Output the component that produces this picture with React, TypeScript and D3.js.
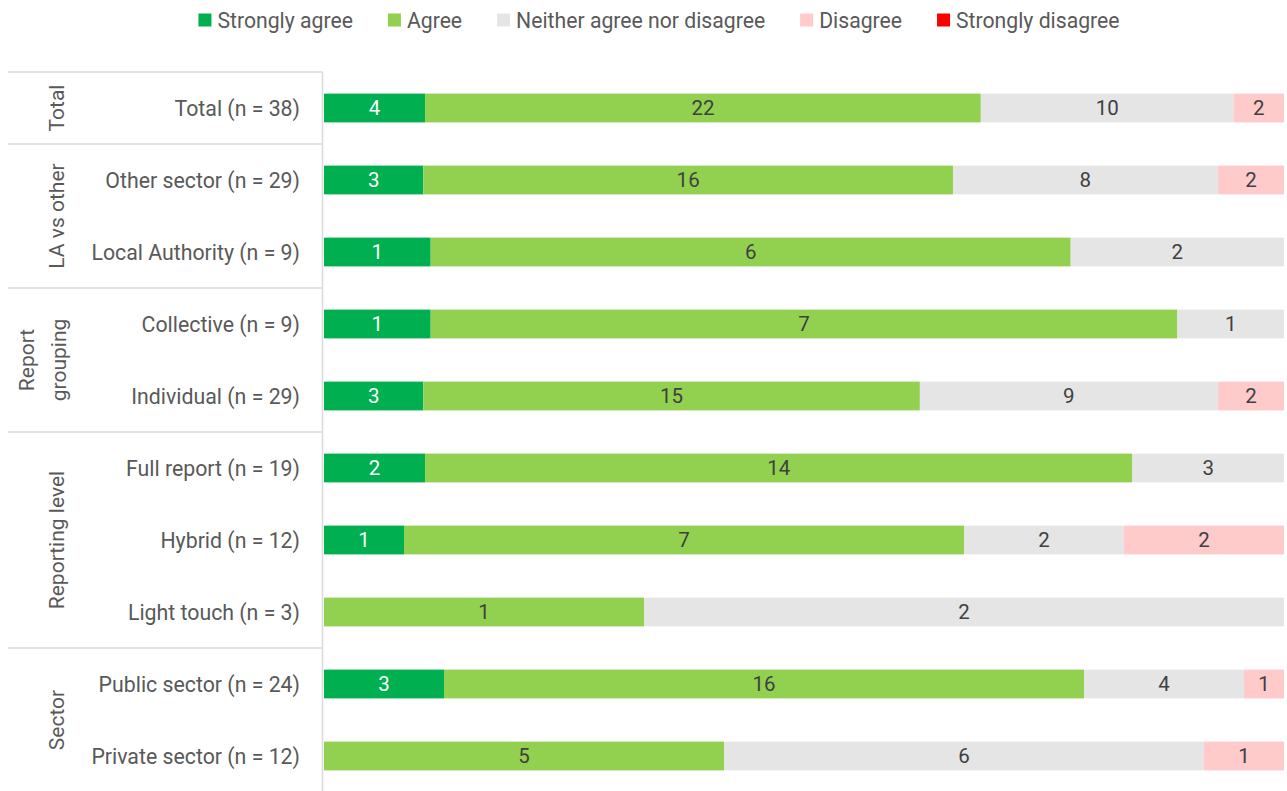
import React, { useEffect, useRef } from "react";
import * as d3 from "d3";

const seriesNames = ["Strongly agree", "Agree", "Neither agree nor disagree", "Disagree", "Strongly disagree"];
const seriesColors = ["#00B050", "#92D050", "#E5E5E5", "#FFCACA", "#FF0000"];
const labelColors = ["#FFFFFF", "#404040", "#404040", "#404040", "#FFFFFF"];

const categories = [
  "Total (n = 38)",
  "Other sector (n = 29)",
  "Local Authority (n = 9)",
  "Collective (n = 9)",
  "Individual (n = 29)",
  "Full report (n = 19)",
  "Hybrid (n = 12)",
  "Light touch (n = 3)",
  "Public sector (n = 24)",
  "Private sector (n = 12)",
];

const stronglyAgree = [4, 3, 1, 1, 3, 2, 1, 0, 3, 0];
const agree = [22, 16, 6, 7, 15, 14, 7, 1, 16, 5];
const neither = [10, 8, 2, 1, 9, 3, 2, 2, 4, 6];
const disagree = [2, 2, 0, 0, 2, 0, 2, 0, 1, 1];
const stronglyDisagree = [0, 0, 0, 0, 0, 0, 0, 0, 0, 0];

const groups = [
  { name: ["Total"], first: 0, last: 0 },
  { name: ["LA vs other"], first: 1, last: 2 },
  { name: ["Report", "grouping"], first: 3, last: 4 },
  { name: ["Reporting level"], first: 5, last: 7 },
  { name: ["Sector"], first: 8, last: 9 },
];

const FONT = "Roboto, 'Open Sans', sans-serif";
const TEXT = "#595959";

export default function App() {
  const ref = useRef<SVGSVGElement>(null);

  useEffect(() => {
    const svg = d3.select(ref.current);
    svg.selectAll("*").remove();
    const H = 791;
    const plotL = 324, plotR = 1284;
    const axisX = 322.5;

    const values = [stronglyAgree, agree, neither, disagree, stronglyDisagree];
    const rows = categories.map((c, i) => {
      const r: any = { cat: c };
      seriesNames.forEach((s, k) => (r[s] = values[k][i]));
      return r;
    });
    const stack = d3.stack<any>().keys(seriesNames).offset(d3.stackOffsetExpand)(rows);

    const y = d3.scaleBand<string>().domain(categories).range([72, 792]).paddingInner(0.6).paddingOuter(0.3);
    const x = d3.scaleLinear().domain([0, 1]).range([plotL, plotR]);

    // bars
    const g = svg.append("g");
    stack.forEach((layer, k) => {
      layer.forEach((d: any) => {
        const cat = d.data.cat;
        const w = x(d[1]) - x(d[0]);
        if (w <= 0) return;
        g.append("rect")
          .attr("x", x(d[0]))
          .attr("y", y(cat)!)
          .attr("width", w)
          .attr("height", y.bandwidth())
          .attr("fill", seriesColors[k]);
        g.append("text")
          .attr("x", (x(d[0]) + x(d[1])) / 2)
          .attr("y", y(cat)! + y.bandwidth() / 2)
          .attr("dy", "0.36em")
          .attr("text-anchor", "middle")
          .attr("font-family", FONT)
          .attr("font-size", 20.5)
          .attr("fill", labelColors[k])
          .text(d.data[seriesNames[k]]);
      });
    });

    // axis lines
    const step = y.step();
    const top = (i: number) => y(categories[i])! - (step - y.bandwidth()) / 2;
    svg.append("line").attr("x1", axisX).attr("x2", axisX).attr("y1", 72).attr("y2", H)
      .attr("stroke", "#D9D9D9").attr("stroke-width", 1.5);
    groups.forEach((gr) => {
      const t = top(gr.first);
      svg.append("line").attr("x1", 8).attr("x2", axisX).attr("y1", t).attr("y2", t)
        .attr("stroke", "#D9D9D9").attr("stroke-width", 1.5);
      const b = top(gr.last) + step;
      const cy = (t + b) / 2;
      const n = gr.name.length;
      const cx = n > 1 ? 42 : 56;
      gr.name.forEach((line, li) => {
        const off = (li - (n - 1) / 2) * 32;
        svg.append("text")
          .attr("transform", `translate(${cx + off},${cy}) rotate(-90)`)
          .attr("text-anchor", "middle")
          .attr("dy", "0.36em")
          .attr("font-family", FONT)
          .attr("font-size", 21)
          .attr("fill", TEXT)
          .text(line);
      });
    });

    // category labels
    categories.forEach((c) => {
      svg.append("text")
        .attr("x", 300)
        .attr("y", y(c)! + y.bandwidth() / 2)
        .attr("dy", "0.36em")
        .attr("text-anchor", "end")
        .attr("font-family", FONT)
        .attr("font-size", 21.3)
        .attr("fill", TEXT)
        .text(c);
    });

    // legend
    const lg = svg.append("g");
    let cur = 0;
    seriesNames.forEach((s, k) => {
      const it = lg.append("g");
      it.append("rect").attr("x", 0).attr("y", -6.5).attr("width", 13).attr("height", 13).attr("fill", seriesColors[k]);
      const t = it.append("text").attr("x", 19).attr("dy", "0.36em")
        .attr("font-family", FONT).attr("font-size", 21.2).attr("fill", TEXT).text(s);
      const tw = (t.node() as SVGTextElement).getComputedTextLength();
      it.attr("transform", `translate(${cur},20)`);
      cur += 19 + tw + 35;
    });
    const totalW = cur - 35;
    lg.attr("transform", `translate(${659 - totalW / 2},0)`);
  }, []);

  return (
    <svg ref={ref} width={1287} height={791} style={{ position: "absolute", left: 0, top: 0, background: "#fff" }} />
  );
}
